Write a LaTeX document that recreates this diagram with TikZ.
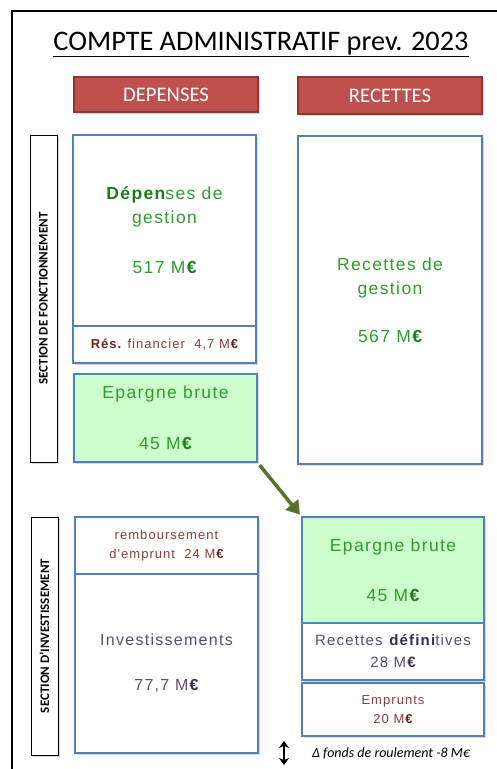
\documentclass[tikz,border=0pt]{standalone}
\usepackage{fontspec}
\setmainfont{Carlito}
\newfontfamily\boxfont[LetterSpace=8]{Liberation Sans}
\usetikzlibrary{arrows.meta,shadows}
\definecolor{bleubord}{HTML}{4F81BD}
\definecolor{rougeF}{HTML}{C0504D}
\definecolor{rougeB}{HTML}{8C3836}
\definecolor{vertfond}{HTML}{CCFFCC}
\definecolor{vertT}{HTML}{2E9E2E}
\definecolor{vertF}{HTML}{1A7F1A}
\definecolor{brun}{HTML}{873F3F}
\definecolor{brunF}{HTML}{6B2424}
\definecolor{violet}{HTML}{5D4D70}
\definecolor{violetF}{HTML}{3C2C50}
\definecolor{olive}{HTML}{58702E}
\begin{document}
\begin{tikzpicture}[x=1pt,y=-1pt,
	ombre/.style={drop shadow={shadow xshift=1.5pt,shadow yshift=-1.5pt,opacity=.3}},
	titrerouge/.style={fill=rougeF,draw=rougeB,line width=1.2pt,text=white,
		font=\fontsize{20.7}{20.7}\selectfont,minimum width=184pt,inner sep=0pt,ombre},
	bloc/.style={fill=white,draw=bleubord,line width=1.6pt,inner sep=0pt,align=center,
		minimum width=183pt,ombre},
	grand/.style={font=\boxfont\fontsize{17.5}{24}\selectfont},
	moyen/.style={font=\boxfont\fontsize{15}{22}\selectfont},
	petit/.style={font=\boxfont\fontsize{13}{19}\selectfont},
	section/.style={fill=white,draw=black,line width=0.8pt,rotate=90,inner sep=0pt,
		font=\bfseries\fontsize{13}{13}\selectfont,minimum height=27pt,ombre}]
\useasboundingbox (0,0) rectangle (497,769);
\coordinate (cadreB) at (12,769);
\coordinate (cadreD) at (497,11);
\draw[line width=2pt] (cadreB) |- (cadreD);
\node[font=\fontsize{28.3}{30}\selectfont,anchor=base] (titre) at (261,50)
	{\underline{COMPTE ADMINISTRATIF prev. 2023}};
\node[titrerouge,minimum height=35pt] (dep) at (166,94.5) {DEPENSES};
\node[titrerouge,minimum height=37pt] (rec) at (390,95.5) {RECETTES};
\node[section,minimum width=327pt] (secF) at (43.5,298.5) {SECTION DE FONCTIONNEMENT};
\node[section,minimum width=238pt] (secI) at (44.5,636) {SECTION D'INVESTISSEMENT};
\node[bloc,grand,text=vertT,minimum height=191pt] (depG) at (164.5,230.5)
	{\textbf{\color{vertF}Dépen}ses de\\gestion\\[26pt]517 M\textbf{\color{vertF}€}};
\node[bloc,petit,text=brun,minimum height=37pt] (resF) at (164.5,344.5)
	{\textbf{\color{brunF}Rés.} financier\ \ 4,7 M\textbf{\color{brunF}€}};
\node[bloc,grand,text=vertT,fill=vertfond,minimum height=88pt] (epG) at (165.5,418)
	{Epargne brute\\[27pt]45 M\textbf{\color{vertF}€}};
\node[bloc,grand,text=vertT,minimum width=184pt,minimum height=328pt] (recG) at (390,300)
	{Recettes de\\gestion\\[24pt]567 M\textbf{\color{vertF}€}};
\node[bloc,petit,text=brun,minimum height=57pt] (remb) at (166.5,545.5)
	{remboursement\\d'emprunt\ \ 24 M\textbf{\color{brunF}€}};
\node[bloc,grand,text=violet,minimum height=179pt,font=\boxfont\fontsize{16}{24}\selectfont] (inv) at (166.5,663.5)
	{Investissements\\[21pt]77,7 M\textbf{\color{violetF}€}};
\node[bloc,grand,text=vertT,fill=vertfond,minimum width=182pt,minimum height=106pt] (epD) at (393,570)
	{Epargne brute\\[26pt]45 M\textbf{\color{vertF}€}};
\node[bloc,moyen,text=violet,minimum width=182pt,minimum height=57pt] (recD) at (393,651.5)
	{Recettes \textbf{\color{violetF}défini}tives\\28 M\textbf{\color{violetF}€}};
\node[bloc,petit,text=brun,minimum width=182pt,minimum height=53pt] (emp) at (393,709.5)
	{Emprunts\\20 M\textbf{\color{brunF}€}};
\draw[olive,line width=3.5pt,-{Triangle[length=13pt,width=16pt]},shorten <=3pt,shorten >=2pt]
	(epG.south east) -- (epD.north west);
\coordinate (haut) at (284,741);
\coordinate (bas) at (284,765);
\draw[line width=2pt,{Stealth[length=7pt,width=10pt]}-{Stealth[length=7pt,width=10pt]}] (haut) -- (bas);
\node[font=\itshape\fontsize{14}{14}\selectfont] (fdr) at (391,753) {Δ fonds de roulement -8 M€};
\end{tikzpicture}
\end{document}
